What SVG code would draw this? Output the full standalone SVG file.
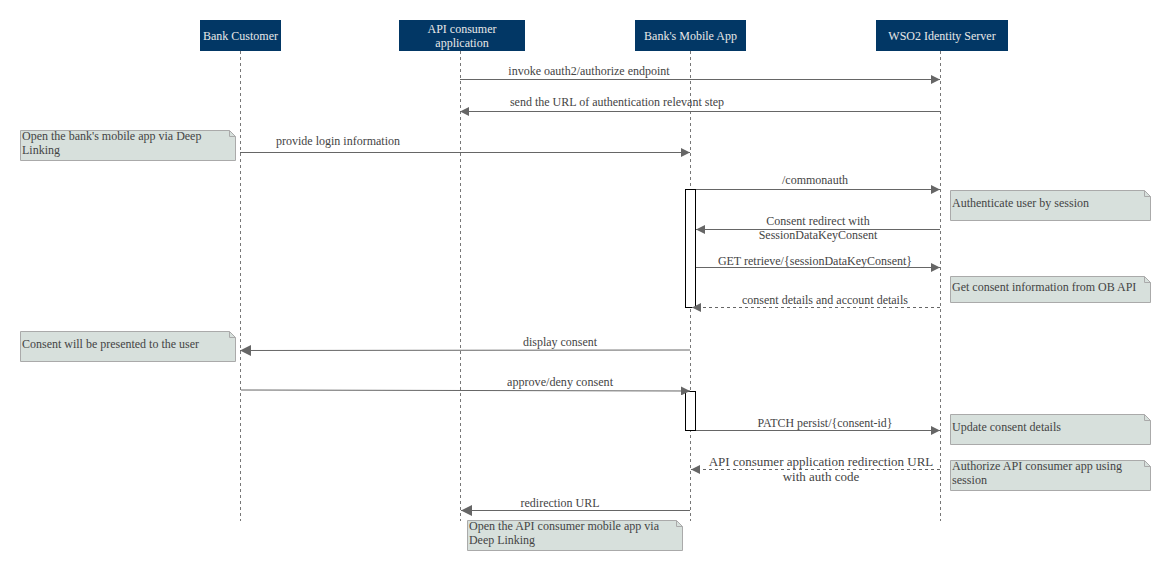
<svg xmlns="http://www.w3.org/2000/svg" width="1171" height="561" viewBox="0 0 1171 561">
<style>
text{font-family:"Liberation Serif","Times New Roman",serif;font-size:12px;fill:#444}
.hdr{fill:#023765}
.hdrt{fill:#e8e8e8;text-anchor:middle}
.life{stroke:#777;stroke-width:1;stroke-dasharray:3 3;fill:none}
.msg{stroke:#666;stroke-width:1;fill:none}
.dash{stroke-dasharray:3 3}
.lbl{text-anchor:middle}
.big{font-size:13px}
.note{fill:#d7e0dc;stroke:#aaa;stroke-width:1}
.fold{fill:none;stroke:#aaa;stroke-width:1}
.act{fill:#fff;stroke:#000;stroke-width:1}
</style>
<defs>
<marker id="ah" viewBox="0 0 10 10" refX="10" refY="5" markerWidth="9" markerHeight="9" markerUnits="userSpaceOnUse" orient="auto">
<path d="M0,0 L10,5 L0,10 z" fill="#666"/>
</marker>
<marker id="ahL" viewBox="0 0 10 10" refX="10" refY="5" markerWidth="11" markerHeight="11" markerUnits="userSpaceOnUse" orient="auto">
<path d="M0,0 L10,5 L0,10 z" fill="#666"/>
</marker>
</defs>
<rect width="1171" height="561" fill="#fff"/>

<g id="bank-customer">
<rect class="hdr" x="200" y="20" width="81" height="31"/>
<text class="hdrt" x="240.5" y="40">Bank Customer</text>
<line class="life" x1="240.5" y1="51" x2="240.5" y2="521"/>
</g>
<g id="api-consumer">
<rect class="hdr" x="399" y="20" width="126" height="31"/>
<text class="hdrt" x="462" y="33">API consumer</text>
<text class="hdrt" x="462" y="47">application</text>
<line class="life" x1="460.5" y1="51" x2="460.5" y2="521"/>
</g>
<g id="mobile-app">
<rect class="hdr" x="635" y="20" width="111" height="31"/>
<text class="hdrt" x="690.5" y="40">Bank's Mobile App</text>
<line class="life" x1="690.5" y1="51" x2="690.5" y2="521"/>
</g>
<g id="wso2-is">
<rect class="hdr" x="876" y="20" width="132" height="31"/>
<text class="hdrt" x="942" y="40">WSO2 Identity Server</text>
<line class="life" x1="940.5" y1="51" x2="940.5" y2="521"/>
</g>

<g id="activations">
<rect class="act" x="685.5" y="189.5" width="10" height="118"/>
<rect class="act" x="685.5" y="391.5" width="10" height="39"/>
</g>

<g id="connectors">
<line class="msg" x1="460" y1="79.5" x2="940" y2="79.5" marker-end="url(#ah)"/>
<text class="lbl" x="589" y="75">invoke oauth2/authorize endpoint</text>
<line class="msg" x1="940" y1="111.5" x2="460" y2="111.5" marker-end="url(#ah)"/>
<text class="lbl" x="617" y="106">send the URL of authentication relevant step</text>
<line class="msg" x1="240" y1="152.5" x2="690" y2="152.5" marker-end="url(#ah)"/>
<text class="lbl" x="338" y="145">provide login information</text>
<line class="msg" x1="696" y1="189.5" x2="940" y2="189.5" marker-end="url(#ah)"/>
<text class="lbl" x="815" y="184">/commonauth</text>
<line class="msg" x1="940" y1="229.5" x2="696" y2="229.5" marker-end="url(#ah)"/>
<text class="lbl" x="818" y="225">Consent redirect with</text>
<text class="lbl" x="818" y="239">SessionDataKeyConsent</text>
<line class="msg" x1="696" y1="267.5" x2="940" y2="267.5" marker-end="url(#ah)"/>
<text class="lbl" x="815" y="265">GET retrieve/{sessionDataKeyConsent}</text>
<line class="msg dash" x1="940" y1="307.5" x2="692" y2="307.5" marker-end="url(#ah)"/>
<text class="lbl" x="825" y="304">consent details and account details</text>
<line class="msg" x1="690" y1="350" x2="240" y2="350.5" marker-end="url(#ahL)"/>
<text class="lbl" x="560" y="346" textLength="74" lengthAdjust="spacingAndGlyphs">display consent</text>
<line class="msg" x1="241" y1="390" x2="690" y2="391" marker-end="url(#ah)"/>
<text class="lbl" x="560" y="386" textLength="106" lengthAdjust="spacingAndGlyphs">approve/deny consent</text>
<line class="msg" x1="696" y1="430.5" x2="940" y2="430.5" marker-end="url(#ah)"/>
<text class="lbl" x="825" y="427" textLength="135" lengthAdjust="spacingAndGlyphs">PATCH persist/{consent-id}</text>
<line class="msg dash" x1="940" y1="469.5" x2="691" y2="469.5" marker-end="url(#ah)"/>
<text class="lbl big" x="821" y="466">API consumer application redirection URL</text>
<text class="lbl big" x="821" y="481">with auth code</text>
<line class="msg" x1="690" y1="510.5" x2="461" y2="510.5" marker-end="url(#ahL)"/>
<text class="lbl" x="560" y="507" textLength="79" lengthAdjust="spacingAndGlyphs">redirection URL</text>
</g>

<g id="note-deeplink">
<path class="note" d="M20.5,130.5 H229.5 L235.5,136.5 V160.5 H20.5 Z"/>
<path class="fold" d="M229.5,130.5 V136.5 H235.5"/>
<text x="22" y="140">Open the bank's mobile app via Deep</text>
<text x="22" y="154">Linking</text>
</g>
<g id="note-auth">
<path class="note" d="M950.5,190.5 H1144.5 L1150.5,196.5 V220.5 H950.5 Z"/>
<path class="fold" d="M1144.5,190.5 V196.5 H1150.5"/>
<text x="952" y="207">Authenticate user by session</text>
</g>
<g id="note-getconsent">
<path class="note" d="M950.5,276.5 H1144.5 L1150.5,282.5 V302.5 H950.5 Z"/>
<path class="fold" d="M1144.5,276.5 V282.5 H1150.5"/>
<text x="952" y="291">Get consent information from OB API</text>
</g>
<g id="note-present">
<path class="note" d="M20.5,331.5 H229.5 L235.5,337.5 V361.5 H20.5 Z"/>
<path class="fold" d="M229.5,331.5 V337.5 H235.5"/>
<text x="22" y="348" textLength="177" lengthAdjust="spacingAndGlyphs">Consent will be presented to the user</text>
</g>
<g id="note-update">
<path class="note" d="M950.5,414.5 H1144.5 L1150.5,420.5 V444.5 H950.5 Z"/>
<path class="fold" d="M1144.5,414.5 V420.5 H1150.5"/>
<text x="952" y="431" textLength="109" lengthAdjust="spacingAndGlyphs">Update consent details</text>
</g>
<g id="note-authorize">
<path class="note" d="M950.5,460.5 H1144.5 L1150.5,466.5 V490.5 H950.5 Z"/>
<path class="fold" d="M1144.5,460.5 V466.5 H1150.5"/>
<text x="952" y="470" textLength="170" lengthAdjust="spacingAndGlyphs">Authorize API consumer app using</text>
<text x="952" y="484" textLength="35" lengthAdjust="spacingAndGlyphs">session</text>
</g>
<g id="note-openapi">
<path class="note" d="M467.5,520.5 H676.5 L682.5,526.5 V550.5 H467.5 Z"/>
<path class="fold" d="M676.5,520.5 V526.5 H682.5"/>
<text x="469" y="530" textLength="190" lengthAdjust="spacingAndGlyphs">Open the API consumer mobile app via</text>
<text x="469" y="544" textLength="66" lengthAdjust="spacingAndGlyphs">Deep Linking</text>
</g>
</svg>
